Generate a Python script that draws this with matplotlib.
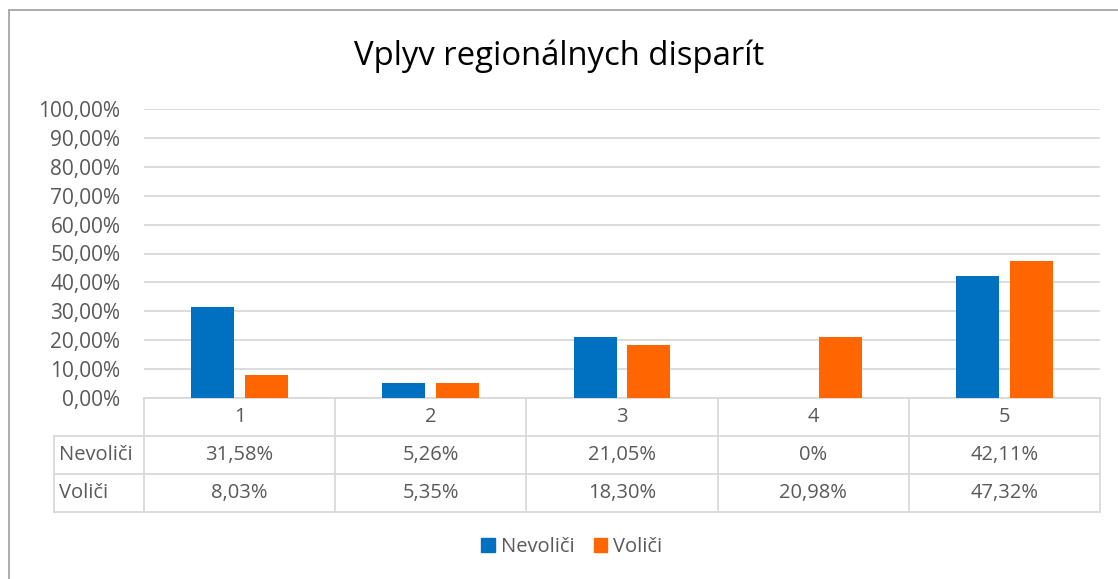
import matplotlib
matplotlib.use("Agg")
import matplotlib.pyplot as plt
from matplotlib.patches import Rectangle
import matplotlib.transforms as mtransforms

categories = ["1", "2", "3", "4", "5"]
nevolici = [31.58, 5.26, 21.05, 0.0, 42.11]
volici = [8.03, 5.35, 18.30, 20.98, 47.32]
nevolici_labels = ["31,58%", "5,26%", "21,05%", "0%", "42,11%"]
volici_labels = ["8,03%", "5,35%", "18,30%", "20,98%", "47,32%"]
series_names = ["Nevoliči", "Voliči"]
yticks = [0, 10, 20, 30, 40, 50, 60, 70, 80, 90, 100]
ytick_labels = ["0,00%", "10,00%", "20,00%", "30,00%", "40,00%", "50,00%",
                "60,00%", "70,00%", "80,00%", "90,00%", "100,00%"]
title = "Vplyv regionálnych disparít"

BLUE = "#0070C0"
ORANGE = "#FF6600"
GRID = "#D9D9D9"
TXT = "#595959"
FS = 14.5

plt.rcParams['font.family'] = ['Open Sans', 'DejaVu Sans']

W, H = 1118, 579
fig = plt.figure(figsize=(W / 100, H / 100), dpi=100)

def fx(px):
    return px / W

def fy(py):
    return 1 - py / H

# outer frame (top and left visible)
fig.add_artist(plt.Line2D([fx(8.5), fx(8.5)], [fy(9.5), 0], transform=fig.transFigure, color="#A6A6A6", lw=1.3))
fig.add_artist(plt.Line2D([fx(8.5), 1], [fy(9.5), fy(9.5)], transform=fig.transFigure, color="#A6A6A6", lw=1.3))

ax_l, ax_r, ax_t, ax_b = 144, 1100, 109, 398
ax = fig.add_axes([fx(ax_l), fy(ax_b), fx(ax_r - ax_l), (ax_b - ax_t) / H])

n = len(categories)
x = list(range(n))
bw = 0.225
off = 0.141
ax.bar([i - off for i in x], nevolici, width=bw, color=BLUE, zorder=3)
ax.bar([i + off for i in x], volici, width=bw, color=ORANGE, zorder=3)

ax.set_xlim(-0.5, n - 0.5)
ax.set_ylim(0, 100)
ax.set_yticks(yticks)
ax.set_yticklabels(ytick_labels, fontsize=15, color=TXT)
ax.tick_params(axis='y', length=0, pad=17)
ax.set_xticks([])
ax.yaxis.grid(True, color=GRID, lw=1.3, zorder=0)
for s in ax.spines.values():
    s.set_visible(False)

fig.text(0.5, fy(56), title, ha="center", va="center", fontsize=23.7, color="#000000")

# data table
bt = mtransforms.blended_transform_factory(ax.transData, fig.transFigure)
row_y = [398, 436, 474, 512]
label_left = -0.5 - (ax_l - 54) / ((ax_r - ax_l) / n)
lkw = dict(color=GRID, lw=1.3, clip_on=False, transform=bt)
# horizontal lines
ax.plot([-0.5, n - 0.5], [fy(row_y[0])] * 2, **lkw)
for yy in row_y[1:]:
    ax.plot([label_left, n - 0.5], [fy(yy)] * 2, **lkw)
# vertical lines
for i in range(n + 1):
    ax.plot([i - 0.5, i - 0.5], [fy(row_y[0]), fy(row_y[3])], **lkw)
ax.plot([label_left, label_left], [fy(row_y[1]), fy(row_y[3])], **lkw)

def mid(a, b):
    return fy((a + b) / 2)

for i, c in enumerate(categories):
    ax.text(i, mid(row_y[0], row_y[1]), c, ha="center", va="center", fontsize=FS, color=TXT, transform=bt)
    ax.text(i, mid(row_y[1], row_y[2]), nevolici_labels[i], ha="center", va="center", fontsize=FS, color=TXT, transform=bt)
    ax.text(i, mid(row_y[2], row_y[3]), volici_labels[i], ha="center", va="center", fontsize=FS, color=TXT, transform=bt)

ax.text(label_left + 0.025, mid(row_y[1], row_y[2]), series_names[0], ha="left", va="center", fontsize=FS, color=TXT, transform=bt)
ax.text(label_left + 0.025, mid(row_y[2], row_y[3]), series_names[1], ha="left", va="center", fontsize=FS, color=TXT, transform=bt)

# legend
handles = [Rectangle((0, 0), 1, 1, color=BLUE), Rectangle((0, 0), 1, 1, color=ORANGE)]
fig.legend(handles, series_names, loc="center", bbox_to_anchor=(fx(572), fy(547)), ncol=2,
           frameon=False, fontsize=FS, labelcolor=TXT, handlelength=0.65, handleheight=0.65,
           handletextpad=0.3, columnspacing=1.0)

fig.savefig("out.png", dpi=100)
